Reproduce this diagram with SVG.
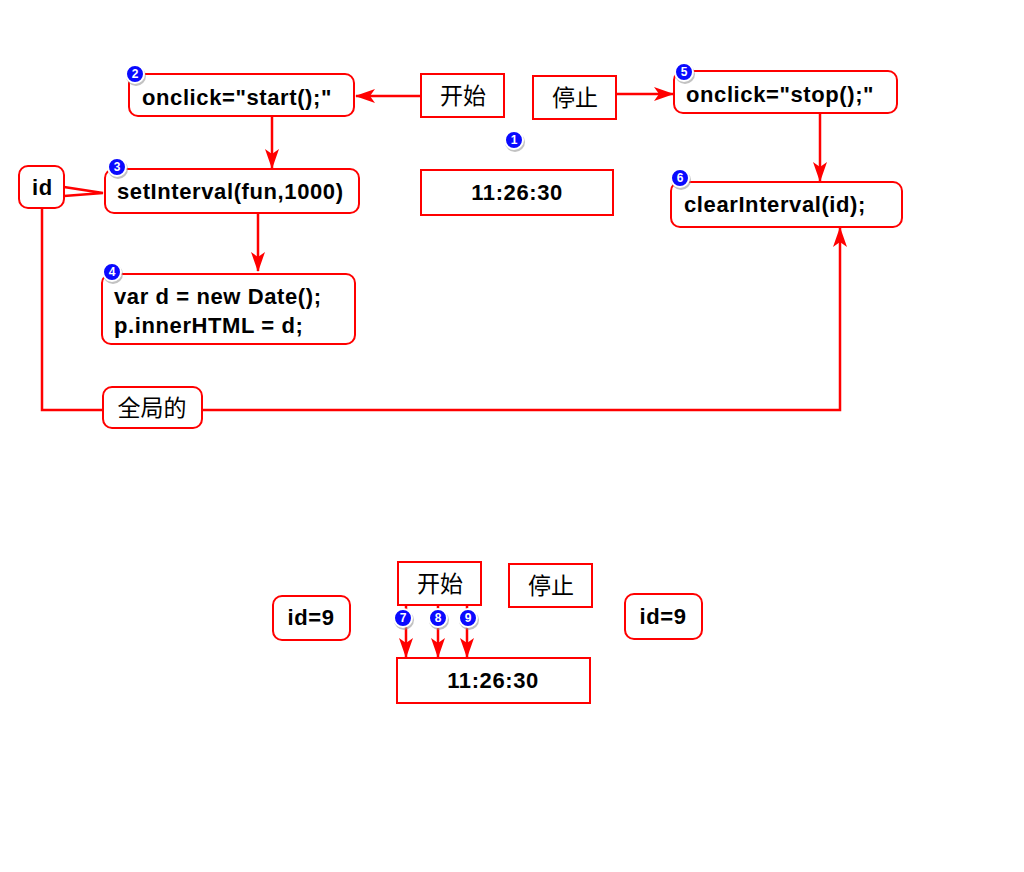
<svg xmlns="http://www.w3.org/2000/svg" width="1024" height="872" viewBox="0 0 1024 872">
<style>
.rb{fill:#fff;stroke:#ff0000;stroke-width:2}
.t{font-family:"Liberation Sans",Arial,sans-serif;font-weight:bold;font-size:22px;letter-spacing:0.6px;fill:#000}
.c{font-family:"Noto Sans CJK SC",sans-serif;font-size:23px;fill:#000}
.ln{fill:none;stroke:#ff0000;stroke-width:2.5}
.bd{fill:#0a0aff;stroke:#fff;stroke-width:2}
.bs{fill:#999;opacity:0.6}
.bt{font-family:"Liberation Sans",Arial,sans-serif;font-weight:bold;font-size:12px;fill:#fff;text-anchor:middle}
</style>
<defs>
<marker id="ah" markerUnits="userSpaceOnUse" markerWidth="20" markerHeight="14" refX="19" refY="7" orient="auto">
<path d="M0,0 L20,7 L0,14 L5,7 Z" fill="#ff0000"/>
</marker>
</defs>
<rect width="1024" height="872" fill="#fff"/>
<g id="connectors">
<line class="ln" x1="421" y1="96" x2="356" y2="96" marker-end="url(#ah)"/>
<line class="ln" x1="272" y1="116" x2="272" y2="168" marker-end="url(#ah)"/>
<line class="ln" x1="258" y1="213" x2="258" y2="271" marker-end="url(#ah)"/>
<line class="ln" x1="616" y1="94" x2="673" y2="94" marker-end="url(#ah)"/>
<line class="ln" x1="820" y1="104" x2="820" y2="181" marker-end="url(#ah)"/>
<polyline class="ln" points="42,209 42,410 103,410"/>
<polyline class="ln" points="202,410 840,410 840,228" marker-end="url(#ah)"/>
<path class="ln" d="M64,187 L103,193 L64,196" stroke-width="2"/>
<line class="ln" x1="406" y1="605" x2="406" y2="612"/>
<line class="ln" x1="438" y1="605" x2="438" y2="612"/>
<line class="ln" x1="467" y1="605" x2="467" y2="612"/>
<line class="ln" x1="406" y1="626" x2="406" y2="657" marker-end="url(#ah)"/>
<line class="ln" x1="438" y1="626" x2="438" y2="657" marker-end="url(#ah)"/>
<line class="ln" x1="467" y1="626" x2="467" y2="657" marker-end="url(#ah)"/>
</g>
<g id="n-onclick-start">
<rect class="rb" x="129" y="74" width="225" height="42" rx="9"/>
<text class="t" x="142" y="105">onclick="start();"</text>
</g>
<g id="n-start-btn">
<rect class="rb" x="421" y="74" width="83" height="43"/>
<text class="c" x="463" y="104" text-anchor="middle">开始</text>
</g>
<g id="n-stop-btn">
<rect class="rb" x="533" y="76" width="83" height="43"/>
<text class="c" x="575" y="106" text-anchor="middle">停止</text>
</g>
<g id="n-onclick-stop">
<rect class="rb" x="674" y="71" width="223" height="42" rx="9"/>
<text class="t" x="686" y="102">onclick="stop();"</text>
</g>
<g id="n-time1">
<rect class="rb" x="421" y="170" width="192" height="45"/>
<text class="t" x="517" y="200" text-anchor="middle">11:26:30</text>
</g>
<g id="n-clear">
<rect class="rb" x="671" y="182" width="231" height="45" rx="9"/>
<text class="t" x="684" y="212">clearInterval(id);</text>
</g>
<g id="n-id">
<rect class="rb" x="19" y="166" width="45" height="42" rx="9"/>
<text class="t" x="32" y="195">id</text>
</g>
<g id="n-setinterval">
<rect class="rb" x="105" y="169" width="254" height="44" rx="9"/>
<text class="t" x="117" y="199">setInterval(fun,1000)</text>
</g>
<g id="n-vard">
<rect class="rb" x="102" y="274" width="253" height="70" rx="9"/>
<text class="t" x="114" y="304">var d = new Date();</text>
<text class="t" x="114" y="333">p.innerHTML = d;</text>
</g>
<g id="n-global">
<rect class="rb" x="103" y="387" width="99" height="41" rx="9"/>
<text class="c" x="152" y="416" text-anchor="middle">全局的</text>
</g>
<g id="n-start-btn2">
<rect class="rb" x="398" y="562" width="83" height="43"/>
<text class="c" x="440" y="592" text-anchor="middle">开始</text>
</g>
<g id="n-stop-btn2">
<rect class="rb" x="509" y="564" width="83" height="43"/>
<text class="c" x="551" y="594" text-anchor="middle">停止</text>
</g>
<g id="n-id9-left">
<rect class="rb" x="273" y="596" width="77" height="44" rx="9"/>
<text class="t" x="311" y="625" text-anchor="middle">id=9</text>
</g>
<g id="n-id9-right">
<rect class="rb" x="625" y="594" width="77" height="45" rx="9"/>
<text class="t" x="663" y="624" text-anchor="middle">id=9</text>
</g>
<g id="n-time2">
<rect class="rb" x="397" y="658" width="193" height="45"/>
<text class="t" x="493" y="688" text-anchor="middle">11:26:30</text>
</g>
<g id="badges">
<g id="b1"><circle class="bs" cx="515" cy="142" r="10"/><circle class="bd" cx="514" cy="140" r="9"/><text class="bt" x="514" y="144">1</text></g>
<g id="b2"><circle class="bs" cx="136" cy="76" r="10"/><circle class="bd" cx="135" cy="74" r="9"/><text class="bt" x="135" y="78">2</text></g>
<g id="b3"><circle class="bs" cx="118" cy="169" r="10"/><circle class="bd" cx="117" cy="167" r="9"/><text class="bt" x="117" y="171">3</text></g>
<g id="b4"><circle class="bs" cx="113" cy="274" r="10"/><circle class="bd" cx="112" cy="272" r="9"/><text class="bt" x="112" y="276">4</text></g>
<g id="b5"><circle class="bs" cx="685" cy="74" r="10"/><circle class="bd" cx="684" cy="72" r="9"/><text class="bt" x="684" y="76">5</text></g>
<g id="b6"><circle class="bs" cx="681" cy="180" r="10"/><circle class="bd" cx="680" cy="178" r="9"/><text class="bt" x="680" y="182">6</text></g>
<g id="b7"><circle class="bs" cx="404" cy="620" r="10"/><circle class="bd" cx="403" cy="618" r="9"/><text class="bt" x="403" y="622">7</text></g>
<g id="b8"><circle class="bs" cx="439" cy="620" r="10"/><circle class="bd" cx="438" cy="618" r="9"/><text class="bt" x="438" y="622">8</text></g>
<g id="b9"><circle class="bs" cx="469" cy="620" r="10"/><circle class="bd" cx="468" cy="618" r="9"/><text class="bt" x="468" y="622">9</text></g>
</g>
</svg>
